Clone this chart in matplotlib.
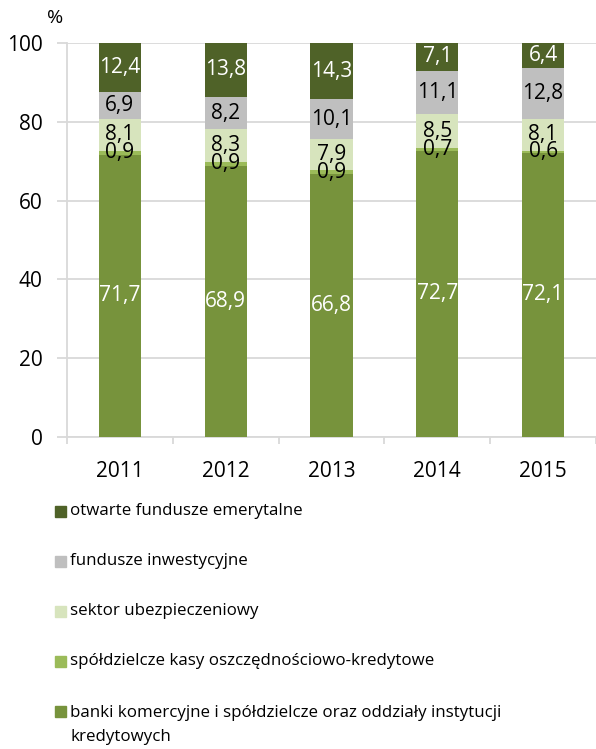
import matplotlib.pyplot as plt
import numpy as np
from matplotlib.patches import Rectangle

# ── Data ──────────────────────────────────────────────────────────────────────
years = ["2011", "2012", "2013", "2014", "2015"]
banki = [71.7, 68.9, 66.8, 72.7, 72.1]
skok = [0.9, 0.9, 0.9, 0.7, 0.6]
ubezp = [8.1, 8.3, 7.9, 8.5, 8.1]
fundusze_inw = [6.9, 8.2, 10.1, 11.1, 12.8]
ofe = [12.4, 13.8, 14.3, 7.1, 6.4]

series_names = [
    "banki komercyjne i spółdzielcze oraz oddziały instytucji\nkredytowych",
    "spółdzielcze kasy oszczędnościowo-kredytowe",
    "sektor ubezpieczeniowy",
    "fundusze inwestycyjne",
    "otwarte fundusze emerytalne",
]
series_values = [banki, skok, ubezp, fundusze_inw, ofe]

COLORS = ["#77933C", "#9BBB59", "#D7E4BD", "#BFBFBF", "#4F6228"]
LABEL_COLORS = ["white", "black", "black", "black", "white"]
GRID = "#D9D9D9"

plt.rcParams["font.family"] = ["Open Sans", "DejaVu Sans"]

W, H = 596, 749
fig = plt.figure(figsize=(W / 100, H / 100), dpi=100)
ax = fig.add_axes([67 / W, 1 - 437 / H, (596 - 67) / W, (437 - 43) / H])

# ── Stacked bars with labels ──────────────────────────────────────────────────
x = np.arange(len(years))
bottom = np.zeros(len(years))
for vals, col, lcol in zip(series_values, COLORS, LABEL_COLORS):
    v = np.array(vals)
    ax.bar(x, v, bottom=bottom, width=0.4, color=col, zorder=3)
    for xi, b, val in zip(x, bottom, v):
        ax.text(xi, b + val / 2, f"{val:.1f}".replace(".", ","),
                ha="center", va="center", color=lcol, fontsize=15, zorder=4)
    bottom += v

# ── Axes styling ──────────────────────────────────────────────────────────────
ax.set_xlim(-0.5, len(years) - 0.5)
ax.set_ylim(0, 100)
ax.set_yticks(range(0, 101, 20))
ax.yaxis.grid(True, color=GRID, linewidth=1.3, zorder=0)
ax.set_xticks(x)
ax.set_xticklabels(years)
ax.set_xticks(np.arange(-0.5, len(years)), minor=True)
ax.tick_params(axis="y", length=7, width=1.3, color=GRID, pad=10.5,
               labelsize=15, labelcolor="black")
ax.tick_params(axis="x", which="major", length=0, pad=17,
               labelsize=15, labelcolor="black")
ax.tick_params(axis="x", which="minor", length=5, width=1.3, color=GRID)
for s in ["top", "right"]:
    ax.spines[s].set_visible(False)
for s in ["left", "bottom"]:
    ax.spines[s].set_color(GRID)
    ax.spines[s].set_linewidth(1.3)

fig.text(55 / W, 1 - 18 / H, "%", fontsize=14, ha="center", va="center")

# ── Legend (manual, top series first) ─────────────────────────────────────────
leg_y = [511, 561, 611, 661, 711]
for name, col, yy in zip(series_names[::-1], COLORS[::-1], leg_y):
    fig.patches.append(Rectangle((55 / W, 1 - (yy + 5.5) / H), 11 / W, 11 / H,
                                 transform=fig.transFigure, color=col))
    if "\n" in name:
        fig.text(70 / W, 1 - (yy - 6) / H, name, fontsize=12.2, va="top",
                 ha="left", linespacing=1.65)
    else:
        fig.text(70 / W, 1 - yy / H, name, fontsize=12.2, va="center", ha="left")

fig.savefig("out.png", dpi=100)
